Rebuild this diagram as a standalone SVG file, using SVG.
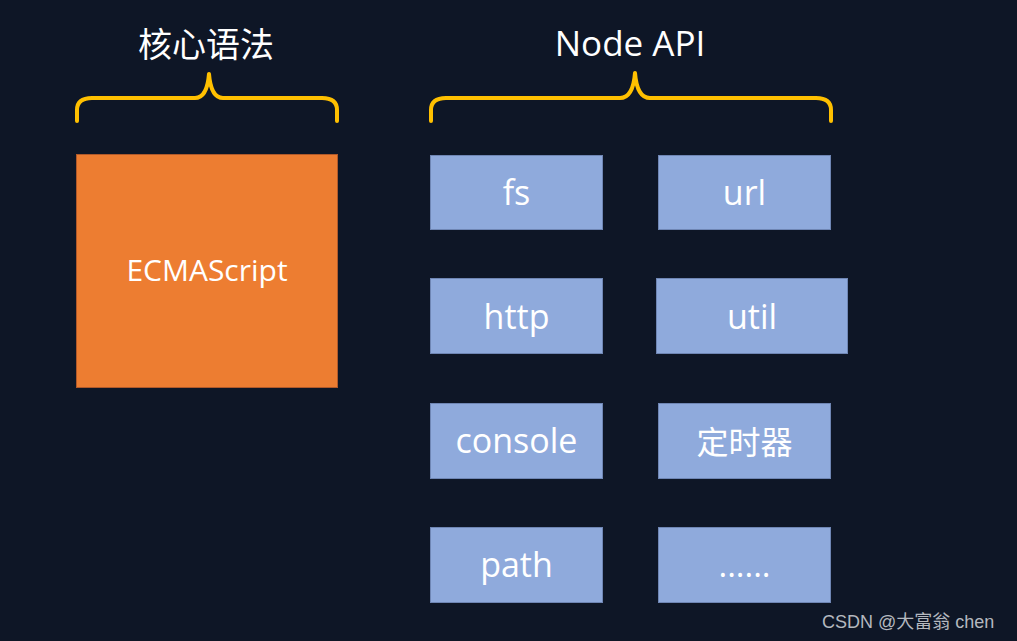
<svg xmlns="http://www.w3.org/2000/svg" width="1017" height="641" viewBox="0 0 1017 641">
<style>
.bg{fill:#0e1626}
.core{fill:#ed7d31;stroke:#b0592a;stroke-width:1}
.api{fill:#8faadc;stroke:#6f86b4;stroke-width:1}
.lbl{fill:#ffffff;font-family:"Open Sans","Noto Sans","Noto Sans CJK SC",sans-serif;text-anchor:middle}
.head{fill:#ffffff;font-family:"Open Sans","Noto Sans","Noto Sans CJK SC",sans-serif;text-anchor:middle}
.brace{fill:none;stroke:#ffc000;stroke-width:4;stroke-linecap:round;stroke-linejoin:round}
.wm{fill:#b4b8bf;font-family:"Liberation Sans","Noto Sans CJK SC",sans-serif;font-size:18px}
</style>
<rect class="bg" x="0" y="0" width="1017" height="641"/>
<g id="braces">
<path class="brace" d="M77,121 L77,110 Q77,98 92,98 L195,98 Q207,98 209,74 Q211,98 223,98 L322,98 Q337,98 337,110 L337,121"/>
<path class="brace" d="M431,121 L431,110 Q431,98 446,98 L620,98 Q633,98 635,73 Q637,98 650,98 L816,98 Q831,98 831,110 L831,121"/>
</g>
<g id="title-core"><text class="head" x="206" y="57" font-size="34" font-family="'Noto Sans CJK SC',sans-serif">核心语法</text></g>
<g id="title-api"><text class="head" x="630" y="56" font-size="35">Node API</text></g>
<g id="ecmascript">
<rect class="core" x="76.5" y="154.5" width="261" height="233"/>
<text class="lbl" x="207" y="281" font-size="30">ECMAScript</text>
</g>
<g id="fs"><rect class="api" x="430.5" y="155.5" width="172" height="74"/><text class="lbl" x="516.5" y="205" font-size="34">fs</text></g>
<g id="url"><rect class="api" x="658.5" y="155.5" width="172" height="74"/><text class="lbl" x="744.5" y="205" font-size="34">url</text></g>
<g id="http"><rect class="api" x="430.5" y="278.5" width="172" height="75"/><text class="lbl" x="516.5" y="329" font-size="34">http</text></g>
<g id="util"><rect class="api" x="656.5" y="278.5" width="191" height="75"/><text class="lbl" x="752" y="329" font-size="34">util</text></g>
<g id="console"><rect class="api" x="430.5" y="403.5" width="172" height="75"/><text class="lbl" x="516.5" y="453" font-size="34">console</text></g>
<g id="timer"><rect class="api" x="658.5" y="403.5" width="172" height="75"/><text class="lbl" x="744.5" y="454" font-size="32" font-family="'Noto Sans CJK SC',sans-serif">定时器</text></g>
<g id="path"><rect class="api" x="430.5" y="527.5" width="172" height="75"/><text class="lbl" x="516.5" y="577" font-size="34">path</text></g>
<g id="more"><rect class="api" x="658.5" y="527.5" width="172" height="75"/><text class="lbl" x="744.5" y="577" font-size="33">......</text></g>
<g id="connectors"/>
<text class="wm" x="822" y="628">CSDN @大富翁 chen</text>
</svg>
